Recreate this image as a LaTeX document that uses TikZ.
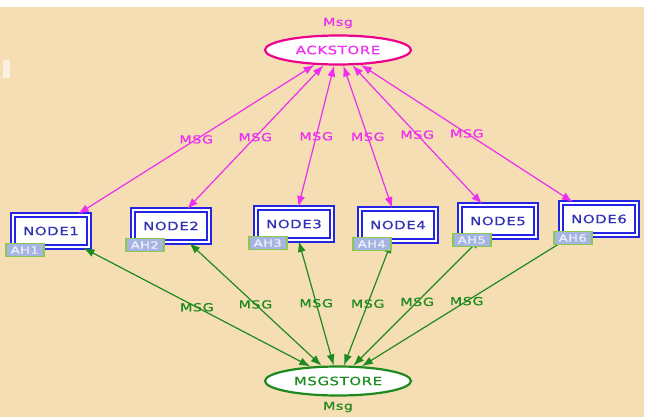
\documentclass[tikz,border=0pt]{standalone}
\usepackage{fontspec}
\usetikzlibrary{shapes.geometric,arrows.meta}

\newfontfamily\diagfont[FakeStretch=1.3,LetterSpace=5,FakeBold=0.6]{DejaVu Sans}

\definecolor{wheatbg}{HTML}{F5DEB4}
\definecolor{ackpink}{HTML}{EE2EEE}
\definecolor{msggreen}{HTML}{1E8A1E}
\definecolor{boxblue}{HTML}{2424E6}
\definecolor{boxtext}{HTML}{3232B4}
\definecolor{tagfill}{HTML}{A6B4E2}
\definecolor{tagedge}{HTML}{8CC850}
\definecolor{tagtext}{HTML}{EEF0FA}

% node list: number / x / y (pixels, y going down)
\def\nodeList{1/51/231, 2/171/226, 3/294/224, 4/398/225, 5/498/221, 6/599/219}

\tikzset{
    store/.style = {ellipse, fill=white, line width=2.2pt,
        minimum width=146pt, minimum height=29pt, inner sep=0pt,
        font=\diagfont\fontsize{11.5}{12}\selectfont},
    procbox/.style = {rectangle, draw=boxblue, fill=white, line width=2pt,
        double=white, double distance=2pt,
        minimum width=76pt, minimum height=32pt, inner sep=0pt,
        text=boxtext, font=\diagfont\fontsize{11.5}{12}\selectfont},
    tagbox/.style = {rectangle, fill=tagfill, draw=tagedge, line width=1.6pt,
        minimum width=38pt, minimum height=13pt, inner sep=1pt,
        text=tagtext, font=\diagfont\fontsize{10}{10}\selectfont},
    ackarrow/.style = {draw=ackpink, line width=1.2pt,
        {Latex[length=11pt,width=8pt]}-{Latex[length=11pt,width=8pt]}},
    msgarrow/.style = {draw=msggreen, line width=1.2pt,
        {Latex[length=11pt,width=8pt]}-{Latex[length=11pt,width=8pt]}},
    linklabel/.style = {font=\diagfont\fontsize{11}{11}\selectfont, inner sep=0pt}
}

\begin{document}
\begin{tikzpicture}[x=1pt, y=-1pt]
    \useasboundingbox (0,0) rectangle (653,417);
    \fill [white] (0,0) rectangle (653,417);
    \fill [wheatbg] (0,7) rectangle (644,417);
    \fill [white, opacity=0.6] (3,60) rectangle (10,78);

    % the two stores
    \node [store, draw=magenta, text=ackpink] (ackstore) at (338,50) {ACKSTORE};
    \node [linklabel, text=ackpink, above=6pt] (ackname) at (ackstore.north) {Msg};
    \node [store, draw=msggreen, text=msggreen] (msgstore) at (338,381) {MSGSTORE};
    \node [linklabel, text=msggreen, below=5pt] (msgname) at (msgstore.south) {Msg};

    \foreach \i/\x/\y in \nodeList {
        \node [procbox] (node\i) at (\x,\y) {NODE\i};
    }

    % links
    \foreach \i/\x/\y in \nodeList {
        \draw [ackarrow] (ackstore) -- node [linklabel, text=ackpink] {MSG} (node\i);
        \draw [msgarrow] (msgstore) -- node [linklabel, text=msggreen] {MSG} (node\i);
    }

    \foreach \i/\x/\y in \nodeList {
        \node [tagbox, anchor=west] (ah\i) at ([xshift=-7pt,yshift=-2pt]node\i.south west) {AH\i};
    }
\end{tikzpicture}
\end{document}
